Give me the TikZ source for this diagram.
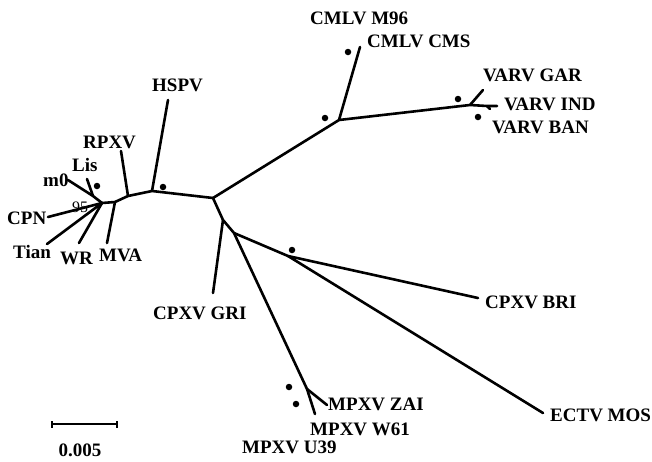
\documentclass[tikz,border=0pt]{standalone}
\usepackage{fontspec}
\setmainfont{Liberation Serif}

\begin{document}
\begin{tikzpicture}[x=1pt,y=-1pt,boot/.style={fill=black, circle, minimum size=6.5pt, inner sep=0pt},taxon/.style={anchor=west, inner sep=0pt, font=\fontsize{19}{20}\selectfont\bfseries},br/.style={line width=2.6pt, line cap=round, line join=round}]
  \useasboundingbox (0,0) rectangle (652,461);

  % inner nodes
  \coordinate (c) at (213,198);
  \coordinate (h) at (152,191);
  \coordinate (r) at (128,196);
  \coordinate (v) at (115,202);
  \coordinate (k) at (102,203);
  \coordinate (l) at (93,196);
  \coordinate (cv) at (339,120);
  \coordinate (va) at (470,105);
  \coordinate (vb) at (487,106);
  \coordinate (g) at (223,220);
  \coordinate (e) at (234,233);
  \coordinate (b) at (288,256);
  \coordinate (m) at (307,389);

  % tips
  \coordinate (m0) at (68,180);
  \coordinate (lis) at (87,179);
  \coordinate (cpn) at (48,217);
  \coordinate (tian) at (47,244);
  \coordinate (wr) at (79,243);
  \coordinate (mva) at (107,243);
  \coordinate (rpxv) at (121,151);
  \coordinate (hspv) at (168,100);
  \coordinate (cmlv) at (360,47);
  \coordinate (gar) at (483,90);
  \coordinate (ban) at (490,109);
  \coordinate (ind) at (497,106);
  \coordinate (gri) at (213,293);
  \coordinate (bri) at (478,298);
  \coordinate (ectv) at (543,413);
  \coordinate (zai) at (327,405);
  \coordinate (w61) at (315,414);

  % labels
  \node[taxon] (tm0) at (43,180) {m0};
  \node[taxon] (tlis) at (72,165) {Lis};
  \node[taxon] (tcpn) at (7,218) {CPN};
  \node[taxon] (ttian) at (13,252) {Tian};
  \node[taxon] (twr) at (60,258) {WR};
  \node[taxon] (tmva) at (99,255) {MVA};
  \node[taxon] (trpxv) at (83,142) {RPXV};
  \node[taxon] (thspv) at (152,85) {HSPV};
  \node[taxon] (tm96) at (310,18) {CMLV M96};
  \node[taxon] (tcms) at (367,41) {CMLV CMS};
  \node[taxon] (tgar) at (483,75) {VARV GAR};
  \node[taxon] (tind) at (504,104) {VARV IND};
  \node[taxon] (tban) at (492,127) {VARV BAN};
  \node[taxon] (tgri) at (153,313) {CPXV GRI};
  \node[taxon] (tbri) at (485,302) {CPXV BRI};
  \node[taxon] (tectv) at (550,415) {ECTV MOS};
  \node[taxon] (tzai) at (328,404) {MPXV ZAI};
  \node[taxon] (tw61) at (310,429) {MPXV W61};
  \node[taxon] (tu39) at (242,447) {MPXV U39};
  \node[inner sep=0pt, font=\fontsize{16}{16}\selectfont] (n95) at (80,207) {95};

  % branches
  \draw[br] (m0) -- (l) -- (k);
  \draw[br] (lis) -- (l);
  \draw[br] (cpn) -- (k);
  \draw[br] (tian) -- (k);
  \draw[br] (wr) -- (k);
  \draw[br] (k) -- (v) -- (r) -- (h) -- (c);
  \draw[br] (mva) -- (v);
  \draw[br] (rpxv) -- (r);
  \draw[br] (hspv) -- (h);
  \draw[br] (c) -- (cv) -- (va) -- (vb) -- (ind);
  \draw[br] (cv) -- (cmlv);
  \draw[br] (va) -- (gar);
  \draw[br] (vb) -- (ban);
  \draw[br] (c) -- (g) -- (e) -- (m);
  \draw[br] (g) -- (gri);
  \draw[br] (e) -- (b) -- (bri);
  \draw[br] (b) -- (ectv);
  \draw[br] (m) -- (zai);
  \draw[br] (m) -- (w61);

  % support dots
  \node[boot] (d1) at (97,186) {};
  \node[boot] (d2) at (163,187) {};
  \node[boot] (d3) at (325,118) {};
  \node[boot] (d4) at (348,52) {};
  \node[boot] (d5) at (458,99) {};
  \node[boot] (d6) at (478,117) {};
  \node[boot] (d7) at (292,250) {};
  \node[boot] (d8) at (289,387) {};
  \node[boot] (d9) at (296,404) {};

  % scale bar
  \coordinate (s1) at (52,424);
  \coordinate (s2) at (117,424);
  \draw[line width=2.6pt] (s1) -- (s2);
  \draw[line width=1.8pt] ([yshift=-3.5pt]s1) -- ([yshift=3.5pt]s1);
  \draw[line width=1.8pt] ([yshift=-3.5pt]s2) -- ([yshift=3.5pt]s2);
  \node[font=\fontsize{19}{20}\selectfont\bfseries, inner sep=0pt] (sl) at (80,450) {0.005};
\end{tikzpicture}
\end{document}
